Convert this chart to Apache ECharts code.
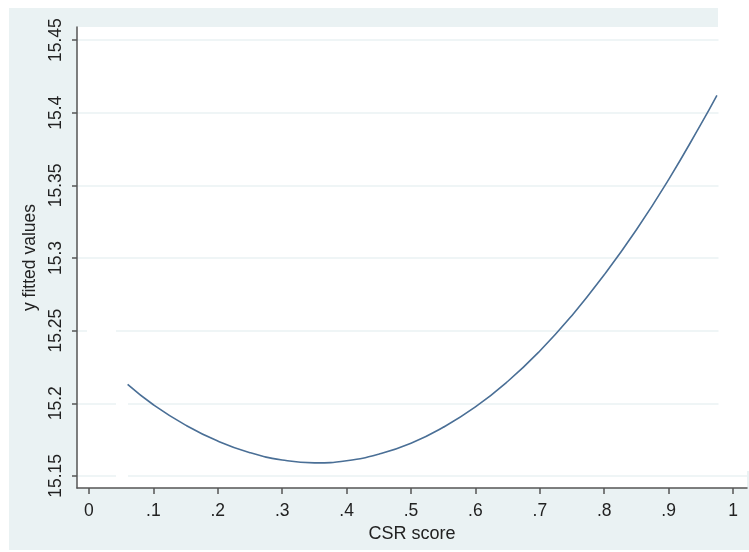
<!DOCTYPE html>
<html><head><meta charset="utf-8">
<script src="https://cdn.jsdelivr.net/npm/echarts@6/dist/echarts.min.js"></script>
<style>html,body{margin:0;padding:0;background:#fff}#c{width:749px;height:552px}</style>
</head><body><div id="c"></div>
<script>
// Data
var csrScore = [0.06, 0.10, 0.15, 0.20, 0.25, 0.30, 0.35, 0.40, 0.45, 0.50, 0.55, 0.60, 0.65, 0.70, 0.75, 0.80, 0.85, 0.90, 0.95, 0.975];
var yFitted  = [15.213, 15.199, 15.185, 15.174, 15.166, 15.161, 15.159, 15.1605, 15.165, 15.1725, 15.1835, 15.1975, 15.215, 15.236, 15.2605, 15.2885, 15.3195, 15.354, 15.392, 15.412];
var xTicks = [0, 0.1, 0.2, 0.3, 0.4, 0.5, 0.6, 0.7, 0.8, 0.9, 1];
var xTickLabels = ['0', '.1', '.2', '.3', '.4', '.5', '.6', '.7', '.8', '.9', '1'];
var yTicks = [15.15, 15.2, 15.25, 15.3, 15.35, 15.4, 15.45];
var yTickLabels = ['15.15', '15.2', '15.25', '15.3', '15.35', '15.4', '15.45'];

var pts = csrScore.map(function (x, i) { return [x, yFitted[i]]; });
function lab(ticks, labels) {
  return function (v) {
    for (var i = 0; i < ticks.length; i++) if (Math.abs(ticks[i] - v) < 1e-6) return labels[i];
    return '';
  };
}
var FONT = '"Liberation Sans", Arial, sans-serif';
var BG = '#EAF2F3';
var chart = echarts.init(document.getElementById('c'), null, {renderer: 'canvas'});
chart.setOption({
  backgroundColor: '#ffffff',
  animation: false,
  textStyle: {fontFamily: FONT},
  grid: {left: 77, right: 2, top: 27, bottom: 64, show: true, backgroundColor: '#ffffff', borderWidth: 0},
  xAxis: {
    type: 'value', min: -0.0186, max: 1.0217,
    name: 'CSR score', nameLocation: 'middle', nameGap: 32,
    nameTextStyle: {fontSize: 18, color: '#222', fontFamily: FONT},
    axisLine: {show: true, onZero: false, lineStyle: {color: '#555', width: 1.5}},
    axisTick: {show: true, length: 6, customValues: xTicks, lineStyle: {color: '#555', width: 1.5}},
    axisLabel: {customValues: xTicks, formatter: lab(xTicks, xTickLabels), fontSize: 17.5, color: '#222', margin: 14, fontFamily: FONT},
    splitLine: {show: false}
  },
  yAxis: {
    type: 'value', min: 15.1417, max: 15.459,
    name: 'y fitted values', nameLocation: 'middle', nameGap: 24, nameRotate: 90,
    nameTextStyle: {fontSize: 17.5, color: '#222', fontFamily: FONT},
    axisLine: {show: true, onZero: false, lineStyle: {color: '#555', width: 1.5}},
    axisTick: {show: true, length: 5, customValues: yTicks, lineStyle: {color: '#555', width: 1.5}},
    axisLabel: {customValues: yTicks, formatter: lab(yTicks, yTickLabels), rotate: 90, fontSize: 17.5, color: '#222', margin: 12, fontFamily: FONT},
    splitLine: {show: true, lineStyle: {color: BG, width: 1.5}}
  },
  graphic: [
    {type: 'rect', z: -10, shape: {x: 9, y: 8, width: 709, height: 542}, style: {fill: BG}, silent: true},
    {type: 'rect', z: -10, shape: {x: 718, y: 471, width: 31, height: 79}, style: {fill: BG}, silent: true},
    {type: 'rect', z: 100, shape: {x: 718.5, y: 0, width: 31, height: 471}, style: {fill: '#ffffff'}, silent: true},
    {type: 'rect', z: 100, shape: {x: 116, y: 401, width: 12, height: 4}, style: {fill: '#ffffff'}, silent: true},
    {type: 'rect', z: 100, shape: {x: 116, y: 474, width: 12, height: 4}, style: {fill: '#ffffff'}, silent: true},
    {type: 'rect', z: 100, shape: {x: 87, y: 329, width: 29, height: 4}, style: {fill: '#ffffff'}, silent: true}
  ],
  series: [{
    type: 'line', data: pts, smooth: true, showSymbol: false, symbol: 'none',
    lineStyle: {color: '#4A6F96', width: 1.6}
  }]
});
</script></body></html>
